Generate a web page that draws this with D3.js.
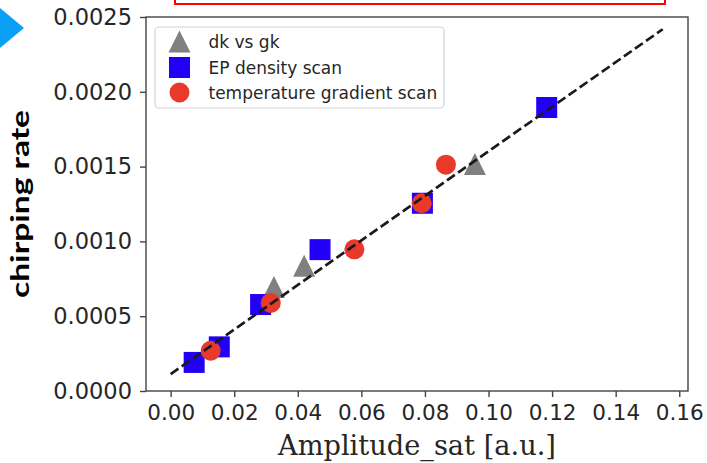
<!DOCTYPE html>
<html>
<head>
<meta charset="utf-8">
<script src="https://cdn.jsdelivr.net/npm/d3@7"></script>
<style>
    body { margin: 0; background: #fff; }
    svg { display: block; }
</style>
</head>
<body>
<div id="chart"></div>
<script>
"use strict";

// dk vs gk (triangles)
var dkX = [0.0325, 0.0420, 0.0957];
var dkY = [0.000695, 0.000838, 0.001518];

// EP density scan (squares)
var epX = [0.0074, 0.0153, 0.0283, 0.0470, 0.0792, 0.1183];
var epY = [0.000191, 0.000295, 0.000578, 0.000945, 0.001255, 0.001895];

// temperature gradient scan (circles)
var tgX = [0.0126, 0.0315, 0.0578, 0.0790, 0.0866];
var tgY = [0.000269, 0.000589, 0.000947, 0.001255, 0.001513];

// linear fit
var fitX = [0, 0.1548];
var fitY = [0.000113, 0.002418];

var xTicks = [0, 0.02, 0.04, 0.06, 0.08, 0.10, 0.12, 0.14, 0.16];
var yTicks = [0, 0.0005, 0.0010, 0.0015, 0.0020, 0.0025];
var legendLabels = ["dk vs gk", "EP density scan", "temperature gradient scan"];

var width = 707, height = 463;
var plotLeft = 146, plotRight = 688, plotTop = 17, plotBottom = 391;

var grey = "#808080", blue = "#2200f8", red = "#e8392b";
var markSize = 21;

var svg = d3.select("#chart")
    .append("svg")
    .attr("width", width)
    .attr("height", height);

// slide decorations
svg.append("path")
    .attr("d", "M0,8 L24,28 L0,48 Z")
    .attr("fill", "#0aa0f5");
svg.append("rect")
    .attr("x", 175).attr("y", -10)
    .attr("width", 490).attr("height", 14)
    .attr("fill", "none")
    .attr("stroke", "#f00")
    .attr("stroke-width", 2);

var x = d3.scaleLinear().domain([-0.00775, 0.16275]).range([plotLeft, plotRight]);
var y = d3.scaleLinear().domain([0, 0.0025]).range([plotBottom, plotTop]);

var xAxis = svg.append("g")
    .attr("transform", "translate(0," + plotBottom + ")")
    .call(d3.axisBottom(x).tickValues(xTicks).tickFormat(d3.format(".2f")).tickSize(6).tickPadding(8));
var yAxis = svg.append("g")
    .attr("transform", "translate(" + plotLeft + ",0)")
    .call(d3.axisLeft(y).tickValues(yTicks).tickFormat(d3.format(".4f")).tickSize(6).tickPadding(8));

[xAxis, yAxis].forEach(function (ax) {
    ax.select(".domain").remove();
    ax.selectAll("line").attr("stroke", "#444").attr("stroke-width", 1.4);
    ax.selectAll("text")
        .attr("fill", "#262626")
        .attr("font-family", "DejaVu Sans")
        .attr("font-size", "21.5px");
});
yAxis.selectAll("text").attr("font-size", "22.5px");

svg.append("rect")
    .attr("x", plotLeft).attr("y", plotTop)
    .attr("width", plotRight - plotLeft).attr("height", plotBottom - plotTop)
    .attr("fill", "none")
    .attr("stroke", "#444")
    .attr("stroke-width", 1.4);

function tri(s) {
    var h = s / 2;
    return "M0," + (-h) + " L" + (-h) + "," + h + " L" + h + "," + h + " Z";
}

var plot = svg.append("g");

plot.selectAll("path.dk")
    .data(d3.zip(dkX, dkY))
    .enter()
    .append("path")
    .attr("class", "dk")
    .attr("d", tri(markSize + 1))
    .attr("transform", function (d) { return "translate(" + x(d[0]) + "," + y(d[1]) + ")"; })
    .attr("fill", grey);

plot.selectAll("rect.ep")
    .data(d3.zip(epX, epY))
    .enter()
    .append("rect")
    .attr("class", "ep")
    .attr("x", function (d) { return x(d[0]) - markSize / 2; })
    .attr("y", function (d) { return y(d[1]) - markSize / 2; })
    .attr("width", markSize)
    .attr("height", markSize)
    .attr("fill", blue);

plot.selectAll("circle.tg")
    .data(d3.zip(tgX, tgY))
    .enter()
    .append("circle")
    .attr("class", "tg")
    .attr("cx", function (d) { return x(d[0]); })
    .attr("cy", function (d) { return y(d[1]); })
    .attr("r", 10)
    .attr("fill", red);

plot.append("path")
    .datum(d3.zip(fitX, fitY))
    .attr("d", d3.line().x(function (d) { return x(d[0]); }).y(function (d) { return y(d[1]); }))
    .attr("fill", "none")
    .attr("stroke", "#1a1a1a")
    .attr("stroke-width", 2.7)
    .attr("stroke-dasharray", "9.5,4");

// legend
var legend = svg.append("g");
legend.append("rect")
    .attr("x", 155).attr("y", 27)
    .attr("width", 289).attr("height", 81)
    .attr("rx", 4)
    .attr("fill", "#fff")
    .attr("fill-opacity", 0.8)
    .attr("stroke", "#d4d4d4")
    .attr("stroke-width", 1.2);

var rowY = [41.5, 67.5, 92.5];
legend.append("path")
    .attr("d", tri(markSize + 1))
    .attr("transform", "translate(179.5," + rowY[0] + ")")
    .attr("fill", grey);
legend.append("rect")
    .attr("x", 179.5 - markSize / 2).attr("y", rowY[1] - markSize / 2)
    .attr("width", markSize).attr("height", markSize)
    .attr("fill", blue);
legend.append("circle")
    .attr("cx", 179.5).attr("cy", rowY[2]).attr("r", 10)
    .attr("fill", red);

legend.selectAll("text")
    .data(legendLabels)
    .enter()
    .append("text")
    .text(function (d) { return d; })
    .attr("x", 208.5)
    .attr("y", function (d, i) { return rowY[i] + 6; })
    .attr("font-family", "DejaVu Sans")
    .attr("font-size", "17px")
    .attr("fill", "#262626");

// axis titles
svg.append("text")
    .text("Amplitude_sat [a.u.]")
    .attr("x", (plotLeft + plotRight) / 2)
    .attr("y", 455)
    .attr("text-anchor", "middle")
    .attr("textLength", 278)
    .attr("lengthAdjust", "spacingAndGlyphs")
    .attr("font-family", "DejaVu Serif")
    .attr("font-size", "28px")
    .attr("fill", "#262626");

svg.append("text")
    .text("chirping rate")
    .attr("transform", "translate(29," + (plotTop + plotBottom) / 2 + ") rotate(-90)")
    .attr("text-anchor", "middle")
    .attr("textLength", 188)
    .attr("lengthAdjust", "spacingAndGlyphs")
    .attr("font-family", "Lato")
    .attr("font-weight", "bold")
    .attr("font-size", "25px")
    .attr("fill", "#000");
</script>
</body>
</html>
